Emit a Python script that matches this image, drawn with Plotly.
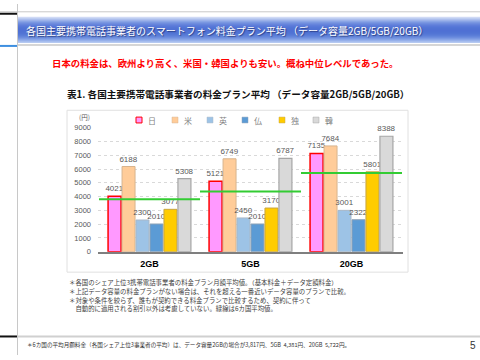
import plotly.graph_objects as go

# ---- data ----
categories = ["2GB", "5GB", "20GB"]
countries = ["日", "米", "英", "仏", "独", "韓"]
values = {
    "日": [4021, 5121, 7135],
    "米": [6188, 6749, 7684],
    "英": [2300, 2450, 3001],
    "仏": [2010, 2010, 2322],
    "独": [3077, 3170, 5801],
    "韓": [5308, 6787, 8388],
}
averages = [3817, 4381, 5722]
y_ticks = [0, 1000, 2000, 3000, 4000, 5000, 6000, 7000, 8000, 9000]

fill_colors = {"日": "#FF99FF", "米": "#FFCC99", "英": "#9DC3E6",
               "仏": "#5B9BD5", "独": "#FFCC00", "韓": "#D9D9D9"}
line_colors = {"日": "#FF0000", "米": "#D8B48E", "英": "#A9B8C8",
               "仏": "#8FA3B8", "独": "#C8A640", "韓": "#A6A6A6"}
line_widths = {"日": 1.5, "米": 1, "英": 1, "仏": 1, "独": 1, "韓": 1.2}

W, H = 480, 360
def px(x): return x / W
def py(y): return 1 - y / H

JP = "Noto Sans CJK JP"

fig = go.Figure()
for c in countries:
    fig.add_trace(go.Bar(
        x=categories, y=values[c], name=c,
        marker=dict(color=fill_colors[c], line=dict(color=line_colors[c], width=line_widths[c])),
        text=[str(v) for v in values[c]], textposition="outside",
        textfont=dict(family="Liberation Sans", size=8, color="#595959"),
        cliponaxis=False, constraintext="none", showlegend=False,
    ))

shapes = []
# header gradient (each strip runs to the bottom so no gaps appear)
grad = ["#D3DDF6", "#C2D0F2", "#B0C2EE", "#9FB4EA", "#8EA7E6", "#7E9AE2", "#728FDF",
        "#6886DC", "#607FDA", "#5A7AD8", "#5576D6", "#5274D5", "#5072D4", "#4F71D4",
        "#4F71D4", "#5073D4", "#5275D5", "#5679D6", "#5B7ED8", "#6385DB", "#6D8DDE",
        "#7998E2", "#87A4E6", "#96B0EA", "#A6BDEE", "#B5C9F1"]
top, bot = 13, 40
n = len(grad)
for k, col in enumerate(grad):
    y0 = top + (bot - top) * k / n
    shapes.append(dict(type="rect", xref="paper", yref="paper", x0=px(18), x1=1, y0=py(bot), y1=py(y0),
                       line=dict(width=0), fillcolor=col, layer="below"))

# green average lines
for i, a in enumerate(averages):
    shapes.append(dict(type="line", xref="x", yref="y", x0=i - 0.5, x1=i + 0.5, y0=a, y1=a,
                       line=dict(color="#33CC33", width=2), layer="above"))

# page frame lines
shapes += [
    dict(type="line", xref="paper", yref="paper", x0=0, x1=1, y0=py(8), y1=py(8), line=dict(color="#C8C8C8", width=1)),
    dict(type="line", xref="paper", yref="paper", x0=0, x1=px(17), y0=py(10), y1=py(10), line=dict(color="#111111", width=2)),
    dict(type="line", xref="paper", yref="paper", x0=px(17.5), x1=px(17.5), y0=0, y1=1, line=dict(color="#C8C8C8", width=1)),
    dict(type="line", xref="paper", yref="paper", x0=px(17), x1=1, y0=py(42), y1=py(42), line=dict(color="#C8C8C8", width=1.5)),
    dict(type="line", xref="paper", yref="paper", x0=0, x1=px(17), y0=py(43), y1=py(43), line=dict(color="#3D8FE0", width=2)),
    dict(type="line", xref="paper", yref="paper", x0=0, x1=px(17), y0=py(341), y1=py(341), line=dict(color="#111111", width=2)),
    dict(type="line", xref="paper", yref="paper", x0=px(17.5), x1=1, y0=py(341), y1=py(341), line=dict(color="#D0D0D0", width=2)),
    # chart box
    dict(type="rect", xref="paper", yref="paper", x0=px(67), x1=px(408), y0=py(275), y1=py(109),
         line=dict(color="#E0E0E0", width=1), fillcolor="rgba(0,0,0,0)", layer="below"),
]

def ann(text, x, y, size, color, family=JP, xanchor="left", **kw):
    return dict(text=text, x=px(x), y=py(y), xref="paper", yref="paper",
                xanchor=xanchor, yanchor="middle", showarrow=False,
                font=dict(family=family, size=size, color=color, **kw))

annotations = [
    ann("各国主要携帯電話事業者のスマートフォン料金プラン平均 （データ容量2GB/5GB/20GB）",
        24, 27, 10, "white", shadow="1px 1px 1px rgba(0,0,40,0.5)"),
    ann("<b>日本の料金は、欧州より高く、米国・韓国よりも安い。概ね中位レベルであった。</b>",
        50, 61, 9.4, "#FF0000"),
    ann("<b>表1. 各国主要携帯電話事業者の料金プラン平均 （データ容量2GB/5GB/20GB）</b>",
        65, 92, 9.6, "#111111"),
    ann("(円)", 77, 116, 6.5, "#595959"),
]

# custom legend
leg_x = [139, 175, 210, 245, 282, 316]
for c, lx in zip(countries, leg_x):
    shapes.append(dict(type="rect", xref="paper", yref="paper", x0=px(lx - 3), x1=px(lx + 3),
                       y0=py(122), y1=py(116), fillcolor=fill_colors[c],
                       line=dict(color=line_colors[c], width=1 if c == "日" else 0.5)))
    annotations.append(ann(c, lx + 7, 119, 8, "#7F7F7F"))

notes = [
    "＊各国のシェア上位3携帯電話事業者の料金プラン月額平均値。（基本料金＋データ定額料金）",
    "＊上記データ容量の料金プランがない場合は、それを超える一番近いデータ容量のプランで比較。",
    "＊対象や条件を絞らず、誰もが契約できる料金プランで比較するため、契約に伴って",
    "　自動的に適用される割引以外は考慮していない。緑線は6カ国平均値。",
]
note_y = [286, 295, 304, 312.5]
for t, ny in zip(notes, note_y):
    annotations.append(ann(t, 67, ny, 6.4, "#404040"))

annotations.append(ann("＊6カ国の平均月額料金（各国シェア上位3事業者の平均）は、データ容量2GBの場合が3,817円、5GB  4,381円、20GB  5,722円。",
                       25, 350, 5.6, "#333333"))
annotations.append(ann("5", 473, 350, 10, "#333333", family="Liberation Sans", xanchor="center"))

fig.update_layout(
    width=W, height=H, margin=dict(l=0, r=0, t=0, b=0),
    paper_bgcolor="white", plot_bgcolor="white",
    barmode="group", bargap=0.17, bargroupgap=0.07,
    shapes=shapes, annotations=annotations,
    xaxis=dict(domain=[px(98), px(403)], showline=True, linecolor="#7F7F7F", linewidth=1.5,
               tickfont=dict(family="Liberation Sans", size=9, color="#000000"),
               tickprefix="<b>", ticksuffix="</b>",
               ticklabelstandoff=3, showgrid=False, fixedrange=True),
    yaxis=dict(domain=[py(254), py(127)], range=[0, 9000], tickvals=y_ticks,
               showgrid=True, gridcolor="#D9D9D9", griddash="dot", gridwidth=1,
               zeroline=False, showline=False,
               tickfont=dict(family="Liberation Sans", size=7.5, color="#595959"),
               ticklabelstandoff=6),
    showlegend=False,
)

fig.write_html("out.html", config={"displayModeBar": False},
               post_script="document.body.style.margin='0';document.body.style.overflow='hidden';")
